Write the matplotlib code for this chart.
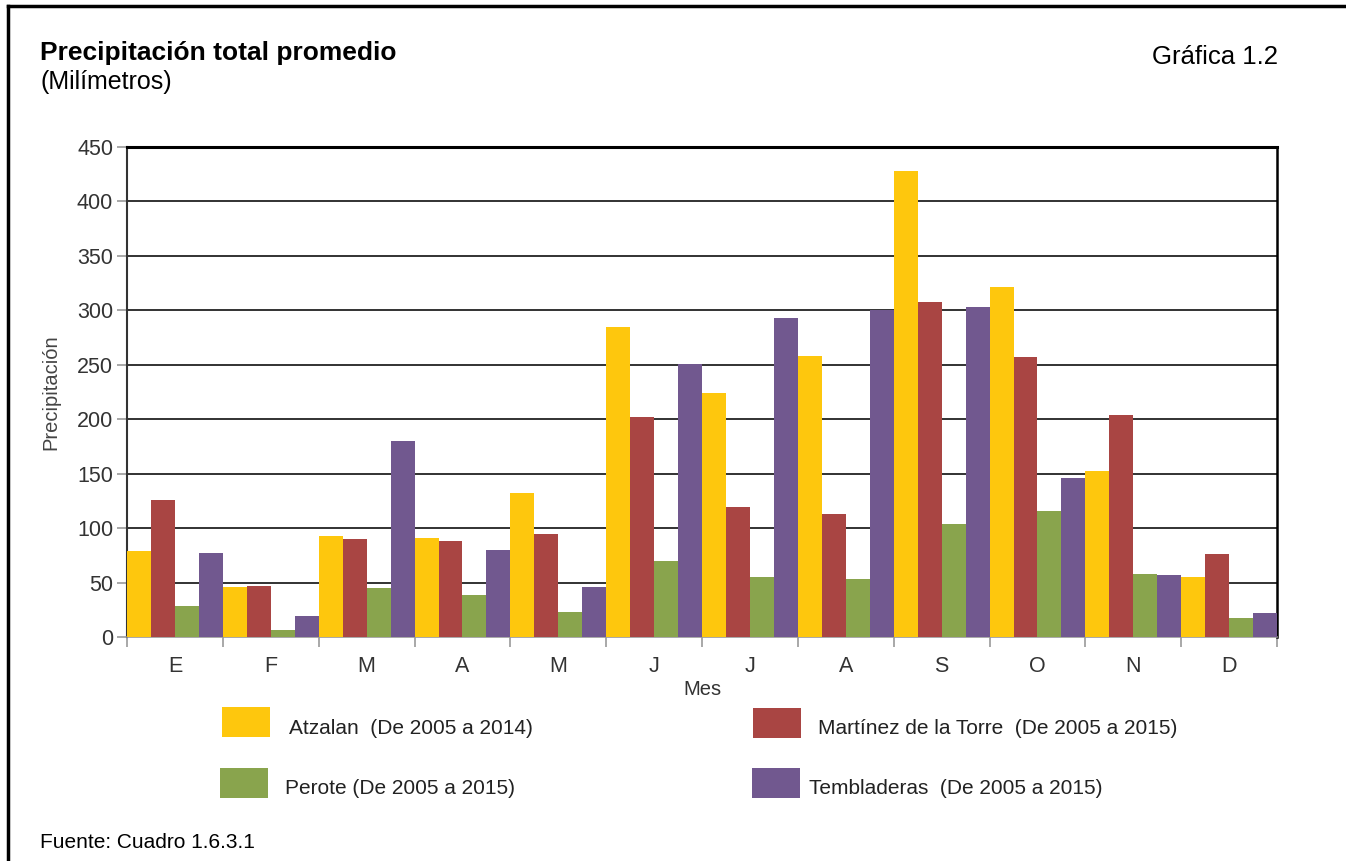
import numpy as np
import matplotlib.pyplot as plt
from matplotlib.patches import Rectangle
from matplotlib.lines import Line2D

plt.rcParams['font.family'] = ['Liberation Sans', 'DejaVu Sans']

# Monthly average precipitation (mm)
months = ['E', 'F', 'M', 'A', 'M', 'J', 'J', 'A', 'S', 'O', 'N', 'D']
atzalan = [79, 46, 93, 91, 132, 285, 224, 258, 428, 321, 152, 55]
martinez = [126, 47, 90, 88, 95, 202, 119, 113, 308, 257, 204, 76]
perote = [28, 6, 45, 39, 23, 70, 55, 53, 104, 116, 58, 17]
tembladeras = [77, 19, 180, 80, 46, 251, 293, 300, 303, 146, 57, 22]

series = [atzalan, martinez, perote, tembladeras]
labels = ['Atzalan  (De 2005 a 2014)', 'Martínez de la Torre  (De 2005 a 2015)',
          'Perote (De 2005 a 2015)', 'Tembladeras  (De 2005 a 2015)']
colors = ['#FEC70D', '#A94543', '#89A44D', '#71588F']

fig = plt.figure(figsize=(13.46, 8.61), dpi=100)
ax = fig.add_axes([0.0944, 0.2602, 0.8544, 0.5691])

x = np.arange(len(months))
w = 0.25
for i, vals in enumerate(series):
    ax.bar(x + (i - 1.5) * w, vals, width=w, color=colors[i], edgecolor='none', zorder=3)

ax.set_xlim(-0.5, len(months) - 0.5)
ax.set_ylim(0, 450)
ax.set_yticks(np.arange(0, 451, 50))
ax.yaxis.grid(True, color='#222222', linewidth=1.3, zorder=1)
ax.set_axisbelow(True)

ax.set_xticks(x)
ax.set_xticklabels(months)
ax.set_xticks(np.arange(-0.5, len(months), 1), minor=True)
ax.tick_params(axis='x', which='major', length=0, pad=14, labelsize=15.5, labelcolor='#333333')
ax.tick_params(axis='x', which='minor', length=7, color='#999999', width=1.2)
ax.tick_params(axis='y', length=7, color='#999999', width=1.2, pad=3, labelsize=15.5,
               labelcolor='#333333')

ax.spines['top'].set_linewidth(2.2)
ax.spines['top'].set_color('black')
ax.spines['right'].set_linewidth(1.8)
ax.spines['right'].set_color('black')
ax.spines['left'].set_color('#333333')
ax.spines['left'].set_linewidth(1.5)
ax.spines['bottom'].set_color('#999999')
ax.spines['bottom'].set_linewidth(1.2)

ax.set_ylabel('Precipitación', fontsize=14.5, color='#444444', labelpad=12)
ax.set_xlabel('Mes', fontsize=14.5, color='#333333', labelpad=2)

# titles
fig.text(40 / 1346, 1 - 53 / 861, 'Precipitación total promedio', fontsize=19,
         fontweight='bold', va='center', ha='left')
fig.text(40 / 1346, 1 - 82 / 861, '(Milímetros)', fontsize=18, va='center', ha='left')
fig.text(1278 / 1346, 1 - 57 / 861, 'Gráfica 1.2', fontsize=18.5, va='center', ha='right')
fig.text(40 / 1346, 1 - 843 / 861, 'Fuente: Cuadro 1.6.3.1', fontsize=15, va='center', ha='left')

# legend boxes, placed like the original
legend_pos = [(222, 707, 289), (753, 708, 818), (220, 768, 285), (752, 768, 809)]
for (px, py, tx), lab, col in zip(legend_pos, labels, colors):
    fig.add_artist(Rectangle((px / 1346, 1 - (py + 30) / 861), 48 / 1346, 30 / 861,
                             transform=fig.transFigure, facecolor=col, edgecolor='none'))
    fig.text(tx / 1346, 1 - (py + 21) / 861, lab, fontsize=15, va='center', ha='left',
             color='#222222')

# outer frame
fig.add_artist(Line2D([8 / 1346, 8 / 1346], [0, 1 - 6 / 861], transform=fig.transFigure,
                      color='black', linewidth=2.5))
fig.add_artist(Line2D([8 / 1346, 1], [1 - 6 / 861, 1 - 6 / 861], transform=fig.transFigure,
                      color='black', linewidth=2.5))

fig.savefig('out.png', dpi=100)
